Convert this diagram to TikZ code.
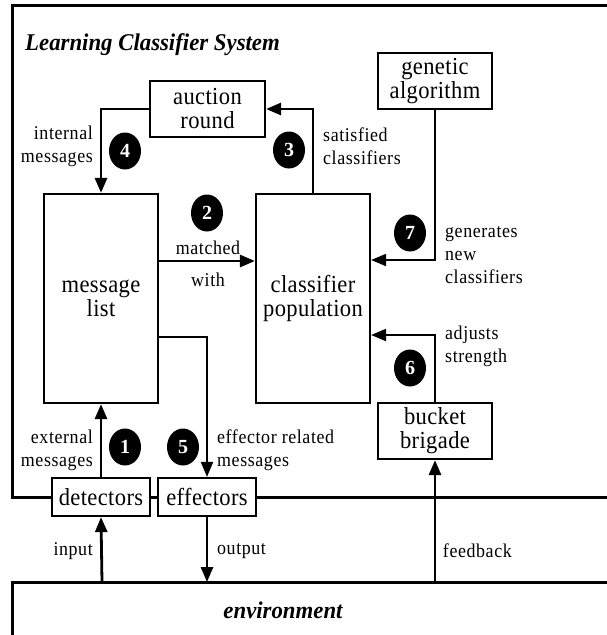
\documentclass[tikz,border=0pt]{standalone}
\usepackage{fontspec}
\setmainfont{Liberation Serif}
\newfontfamily\lblfont[LetterSpace=3,FakeStretch=0.92]{Liberation Serif}
\newfontfamily\boxfont[LetterSpace=1.5,FakeStretch=0.92]{Liberation Serif}
\newfontfamily\titlefont[FakeStretch=0.95]{Liberation Serif}
\usetikzlibrary{arrows.meta,shapes.geometric}
\begin{document}
\begin{tikzpicture}[x=1pt,y=-1pt,
  thick line/.style={line width=2.8pt},
  thin line/.style={line width=2pt},
  arr/.style={-{Triangle[length=15pt,width=12pt]}},
  box/.style={draw,line width=2.2pt,fill=white,inner sep=0pt,align=center,
    font=\boxfont\fontsize{24.5}{24}\selectfont},
  lbl/.style={inner sep=0pt,align=left,font=\lblfont\fontsize{19.5}{23}\selectfont},
  lblr/.style={inner sep=0pt,align=right,font=\lblfont\fontsize{19.5}{23}\selectfont},
  num/.style={fill=black,ellipse,inner sep=0pt,minimum width=32pt,minimum height=37pt,
    text=white,font=\bfseries\fontsize{20}{20}\selectfont},
  ttl/.style={inner sep=0pt,font=\titlefont\bfseries\itshape\fontsize{24}{24}\selectfont}
]
\useasboundingbox (0,0) rectangle (607,635);
\begin{scope}
\clip (0,0) rectangle (607,635);
% outer LCS box
\draw[line width=3pt] (12,5) rectangle (640,497);
% environment box
\draw[line width=3pt] (640,582) -- (12,582) -- (12,660);
\end{scope}
\node[ttl,anchor=west] (title) at (25,45) {Learning Classifier System};
\node[ttl] (envtxt) at (283,610) {environment};
\coordinate (env1) at (102,582);
\coordinate (env2) at (207,582);
\coordinate (env3) at (435,582);

% boxes
\node[box,minimum width=98pt,minimum height=38pt] (det) at (101,497) {detectors};
\node[box,minimum width=98pt,minimum height=38pt] (eff) at (207,497) {effectors};
\node[box,minimum width=114pt,minimum height=209pt] (ml) at (101,298.5) {message\\list};
\node[box,minimum width=114pt,minimum height=209pt] (cp) at (313,298.5) {classifier\\population};
\node[box,minimum width=115pt,minimum height=56pt] (ar) at (207.5,109) {auction\\round};
\node[box,minimum width=114pt,minimum height=56pt] (ga) at (435,81) {genetic\\algorithm};
\node[box,minimum width=114pt,minimum height=56pt] (bb) at (435,431) {bucket\\brigade};

\coordinate (h2) at (0,261);
\coordinate (h7) at (0,260);
\coordinate (h6) at (0,335);
\coordinate (h5) at (0,337);

% connectors
\draw[thick line,arr] (ar.west) -| (ml.north);
\draw[thick line,arr] (cp.north) |- (ar.east);
\draw[thick line,arr] (ml.east |- h2) -- (cp.west |- h2);
\draw[thin line,arr] (ga.south) |- (cp.east |- h7);
\draw[thin line,arr] (bb.north) |- (cp.east |- h6);
\draw[thin line,arr] (ml.east |- h5) -| (eff.north);
\draw[thick line,arr] (det.north) -- (ml.south);
\draw[thick line,arr] (env1) -- (det.south);
\draw[thick line,arr] (eff.south) -- (env2);
\draw[thick line,arr] (env3) -- (bb.south);

% labels
\node[lblr,anchor=east] (l4) at (93,146) {internal\\messages};
\node[lbl,anchor=west] (l3) at (323,146) {satisfied\\classifiers};
\node[lbl,anchor=center] (l2a) at (208,248) {matched};
\node[lbl,anchor=center] (l2b) at (208,280) {with};
\node[lbl,anchor=west] (l7) at (445,255) {generates\\new\\classifiers};
\node[lbl,anchor=west] (l6) at (445,346) {adjusts\\strength};
\node[lblr,anchor=east] (l1) at (93,450) {external\\messages};
\node[lbl,anchor=west] (l5) at (217,450) {effector related\\messages};
\node[lblr,anchor=east] (lin) at (93,551) {input};
\node[lbl,anchor=west] (lout) at (217,551) {output};
\node[lblr,anchor=east] (lfb) at (512,551) {feedback};

% numbers
\node[num] (n1) at (125,447) {1};
\node[num] (n2) at (207,213) {2};
\node[num] (n3) at (289,150) {3};
\node[num] (n4) at (125,151) {4};
\node[num] (n5) at (183,447) {5};
\node[num] (n6) at (410,368) {6};
\node[num] (n7) at (410,233) {7};
\end{tikzpicture}
\end{document}
